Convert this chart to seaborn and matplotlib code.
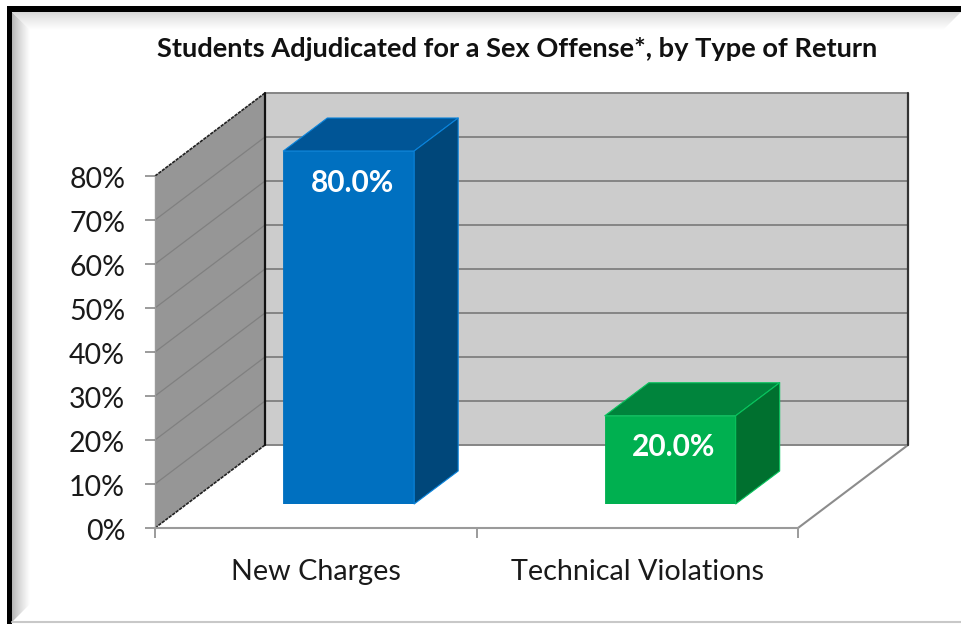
import numpy as np
import matplotlib
matplotlib.use("Agg")
import matplotlib.pyplot as plt
from matplotlib.patches import Polygon, Rectangle
from matplotlib.transforms import Affine2D, ScaledTranslation
import seaborn as sns

categories = ["New Charges", "Technical Violations"]
values = [80.0, 20.0]
value_labels = ["80.0%", "20.0%"]
y_ticks = [0, 10, 20, 30, 40, 50, 60, 70, 80]
title = "Students Adjudicated for a Sex Offense*, by Type of Return"

front_colors = ["#0070C0", "#00B050"]
top_colors = ["#005596", "#00843C"]
side_colors = ["#00477A", "#00702F"]
edge_colors = ["#0A84DC", "#08C45E"]

W, H = 961, 624
sns.set_theme(style="white")
plt.rcParams["font.family"] = ["Lato", "DejaVu Sans"]
fig = plt.figure(figsize=(W / 100, H / 100), dpi=100, facecolor="white")


def rect(l, t, r, b):
    return [l / W, 1 - b / H, (r - l) / W, (b - t) / H]


# pixel-space background: frame, bevel, chart walls
bg = fig.add_axes([0, 0, 1, 1], zorder=0)
bg.set_xlim(0, W)
bg.set_ylim(H, 0)
bg.axis("off")


def gradient(extent, horizontal, start, clip):
    t = np.linspace(0, 1, 64) ** 0.8
    img = np.zeros((64, 1, 4)) if not horizontal else np.zeros((1, 64, 4))
    img[..., :3] = start
    img[..., 3] = (1 - t).reshape(img.shape[:2])
    im = bg.imshow(img, extent=extent, aspect="auto", interpolation="bilinear", zorder=1)
    im.set_clip_path(Polygon(clip, closed=True, transform=bg.transData))


gradient((12, 30, H - 2, 12), True, 0.70,
         [(12, 12), (30, 30), (30, 604), (12, 622)])
gradient((12, W, 30, 12), False, 0.84,
         [(12, 12), (W, 12), (W - 18, 30), (30, 30)])
bg.set_xlim(0, W)
bg.set_ylim(H, 0)
bg.add_patch(Rectangle((7, 6), W - 7, 5.5, fc="black", ec="none", zorder=3))
bg.add_patch(Rectangle((7, 6), 5, H - 6, fc="black", ec="none", zorder=3))
bg.plot([12, W], [622, 622], color="#C8C8C8", lw=1.5, zorder=3)

# 3D frame corners (pixel layout of the box)
FX0, FX1, FY0, FY1 = 155, 798, 528, 176
DX, DY = 110, -83
BX0, BX1, BY0, BY1 = FX0 + DX, FX1 + DX, FY0 + DY, FY1 + DY

bg.add_patch(Polygon([(BX0, BY0), (BX1, BY0), (BX1, BY1), (BX0, BY1)],
                     fc="#CCCCCC", ec="none", zorder=2))
bg.add_patch(Polygon([(FX0, FY0), (BX0, BY0), (BX0, BY1), (FX0, FY1)],
                     fc="#969696", ec="none", zorder=2))
for v in y_ticks:
    back_y = BY0 + (BY1 - BY0) * v / max(y_ticks)
    front_y = FY0 + (FY1 - FY0) * v / max(y_ticks)
    bg.plot([BX0, BX1], [back_y, back_y], color="#858585", lw=1.4, zorder=3,
            solid_capstyle="butt")
    if 0 < v < max(y_ticks):
        bg.plot([FX0, BX0], [front_y, back_y], color="#808080", lw=0.9, zorder=3)
bg.plot([FX0, BX0], [FY0, BY0], color="#222222", lw=1.2, ls=(0, (2, 0.6)), zorder=3)
bg.plot([FX0, BX0], [FY1, BY1], color="#222222", lw=1.2, ls=(0, (2, 0.6)), zorder=3)
bg.plot([BX0, BX0], [BY0, BY1], color="#111111", lw=1.6, zorder=4)
bg.plot([BX1, BX1], [BY0, BY1], color="#333333", lw=1.6, zorder=4)
bg.plot([FX1, BX1], [FY0, BY0], color="#8C8C8C", lw=1.5, zorder=3)

# seaborn bars sit in a plane a little behind the front of the floor
bars = fig.add_axes(rect(188, 151, 831, 504), zorder=1)
bars.patch.set_alpha(0)
sns.barplot(x=categories, y=values, hue=categories, palette=front_colors,
            saturation=1, width=0.407, legend=False, dodge=False, ax=bars)
bars.set_xlim(-0.5, 1.5)
bars.set_ylim(0, max(y_ticks))
bars.axis("off")

fig.canvas.draw()
pixel = Affine2D().scale(1, -1).translate(0, H)
BAR_DX, BAR_DY = 44, -33
patches = [p for p in bars.patches if p.get_height() > 0]
for i, p in enumerate(patches):
    (x0, y0), (x1, y1) = bars.transData.transform(
        [(p.get_x(), 0), (p.get_x() + p.get_width(), p.get_height())])
    y0, y1 = H - y0, H - y1
    p.set_edgecolor(front_colors[i])
    p.set_linewidth(0.6)
    top = [(x0, y1), (x1, y1), (x1 + BAR_DX, y1 + BAR_DY), (x0 + BAR_DX, y1 + BAR_DY)]
    side = [(x1, y0), (x1 + BAR_DX, y0 + BAR_DY), (x1 + BAR_DX, y1 + BAR_DY), (x1, y1)]
    for pts, col in ((top, top_colors[i]), (side, side_colors[i])):
        bars.add_patch(Polygon(pts, fc=col, ec=edge_colors[i], lw=0.8,
                               transform=pixel, clip_on=False, joinstyle="round"))
    bars.annotate(value_labels[i], (p.get_x() + p.get_width() / 2, p.get_height()),
                  xytext=(2.6, -22.8), textcoords="offset points", ha="center",
                  va="center", color="white", fontsize=21.5, fontweight="bold")

# the visible axes on the front plane
front = fig.add_axes(rect(FX0, FY1, FX1, FY0), zorder=2)
front.patch.set_alpha(0)
front.set_xlim(-0.5, 1.5)
front.set_ylim(0, max(y_ticks))
front.set_yticks(y_ticks, [f"{v}%" for v in y_ticks])
front.set_xticks([-0.5, 0.5, 1.5], ["", "", ""])
front.set_xticks([0, 1], categories, minor=True)
for s in ("top", "right"):
    front.spines[s].set_visible(False)
front.spines["bottom"].set_color("#9A9A9A")
front.spines["bottom"].set_linewidth(1.5)
front.spines["left"].set_color("#9A9A9A")
front.spines["left"].set_linewidth(1.0)
front.tick_params(axis="y", left=True, length=7.5, width=1.1, color="#808080",
                  labelsize=20.5, labelcolor="#1A1A1A", pad=14)
front.tick_params(axis="x", which="major", bottom=True, length=7.5, width=1.1, color="#808080")
front.tick_params(axis="x", which="minor", bottom=False, length=0, labelsize=20.7,
                  labelcolor="#1A1A1A", pad=22.5)
front.grid(False)
shift = ScaledTranslation(0, -2 / 100, fig.dpi_scale_trans)
for lab in front.get_yticklabels():
    lab.set_transform(lab.get_transform() + shift)

fig.text(517.5 / W, 1 - 49 / H, title, ha="center", va="center",
         fontsize=19.6, fontweight="bold", color="#111111")

fig.savefig("out.png", dpi=100, facecolor="white")
